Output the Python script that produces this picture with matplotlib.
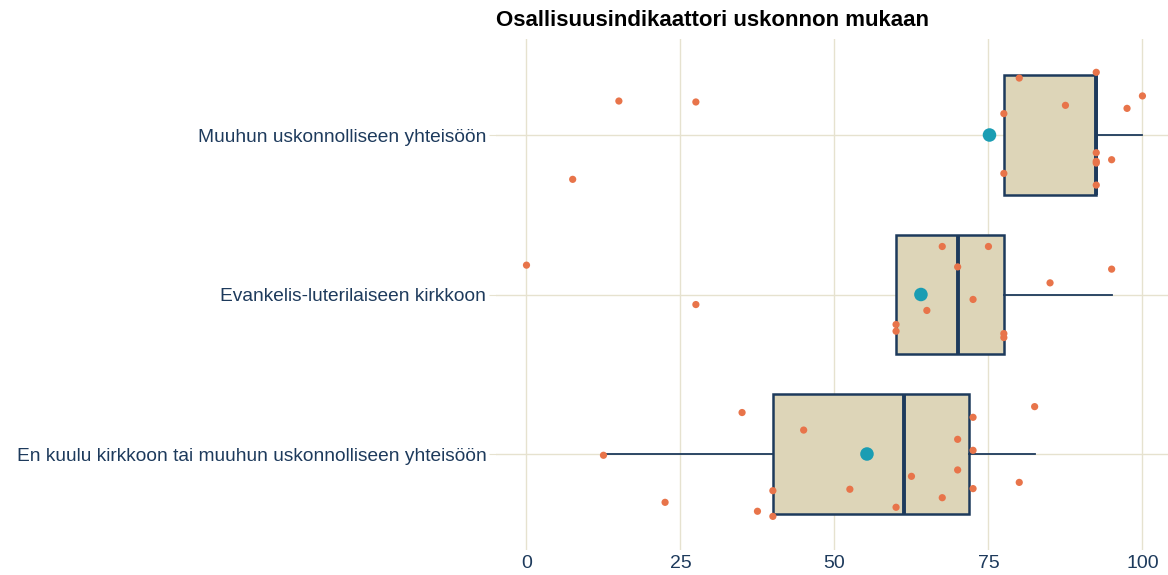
import matplotlib
matplotlib.use("Agg")
import matplotlib.pyplot as plt
import numpy as np

title = "Osallisuusindikaattori uskonnon mukaan"
categories = [
    "En kuulu kirkkoon tai muuhun uskonnolliseen yhteisöön",
    "Evankelis-luterilaiseen kirkkoon",
    "Muuhun uskonnolliseen yhteisöön",
]
values_en_kuulu = [12.5, 35, 45, 22.5, 37.5, 40, 40, 52.5, 60, 62.5, 67.5,
                   70, 70, 72.5, 72.5, 72.5, 80, 82.5]
jitter_en_kuulu = [-0.008, 0.260, 0.150, -0.303, -0.359, -0.391, -0.230, -0.221,
                   -0.334, -0.140, -0.274, 0.092, -0.100, 0.230, 0.023, -0.217,
                   -0.178, 0.297]
values_evl = [0, 27.5, 67.5, 75, 70, 85, 95, 72.5, 65, 60, 60, 77.5, 77.5]
jitter_evl = [0.184, -0.063, 0.301, 0.301, 0.173, 0.073, 0.159, -0.031, -0.100,
              -0.188, -0.230, -0.245, -0.270]
values_muu = [15, 27.5, 7.5, 80, 92.5, 77.5, 87.5, 97.5, 100, 92.5, 92.5, 92.5,
              95, 77.5, 92.5]
jitter_muu = [0.213, 0.207, -0.278, 0.357, 0.393, 0.134, 0.186, 0.167, 0.245,
              -0.111, -0.165, -0.176, -0.155, -0.241, -0.314]
x_ticks = [0, 25, 50, 75, 100]

groups = [values_en_kuulu, values_evl, values_muu]
jitters = [jitter_en_kuulu, jitter_evl, jitter_muu]
positions = [1, 2, 3]

navy = "#1d3a5c"
fill = "#ddd5b8"
grid_c = "#e6e2cf"
orange = "#e8744a"
teal = "#1a9db3"

plt.rcParams['font.family'] = ['Liberation Sans', 'DejaVu Sans']
fig = plt.figure(figsize=(11.68, 5.75), dpi=100)
ax = fig.add_axes([496/1168, 1-549.7/575, 1-496/1168, (549.7-39.3)/575])

ax.boxplot(groups, positions=positions, vert=False, widths=0.75, whis=1.5,
           showfliers=False, patch_artist=True, zorder=2,
           boxprops=dict(facecolor=fill, edgecolor=navy, linewidth=1.8),
           medianprops=dict(color=navy, linewidth=2.8),
           whiskerprops=dict(color=navy, linewidth=1.3),
           capprops=dict(linewidth=0))

for vals, jit, pos in zip(groups, jitters, positions):
    ax.scatter(vals, [pos + j for j in jit], s=27, color=orange, zorder=3,
               edgecolors='none')
    ax.scatter([np.mean(vals)], [pos], s=95, color=teal, zorder=4,
               edgecolors='none')

ax.set_xlim(-4.95, 104.15)
ax.set_ylim(0.4, 3.6)
ax.set_xticks(x_ticks)
ax.set_xticklabels([str(t) for t in x_ticks])
ax.set_yticks(positions)
ax.set_yticklabels(categories)
ax.grid(True, color=grid_c, linewidth=1.0, zorder=0)
ax.set_axisbelow(True)
for s in ax.spines.values():
    s.set_visible(False)
ax.tick_params(axis='x', length=0, labelsize=14, labelcolor=navy, pad=4)
ax.tick_params(axis='y', length=5, color=grid_c, labelsize=13.8, labelcolor=navy, pad=2)

fig.text(496/1168, 1-20/575, title, ha='left', va='center', fontsize=16,
         fontweight='bold', color='black')

fig.savefig("out.png", dpi=100)
